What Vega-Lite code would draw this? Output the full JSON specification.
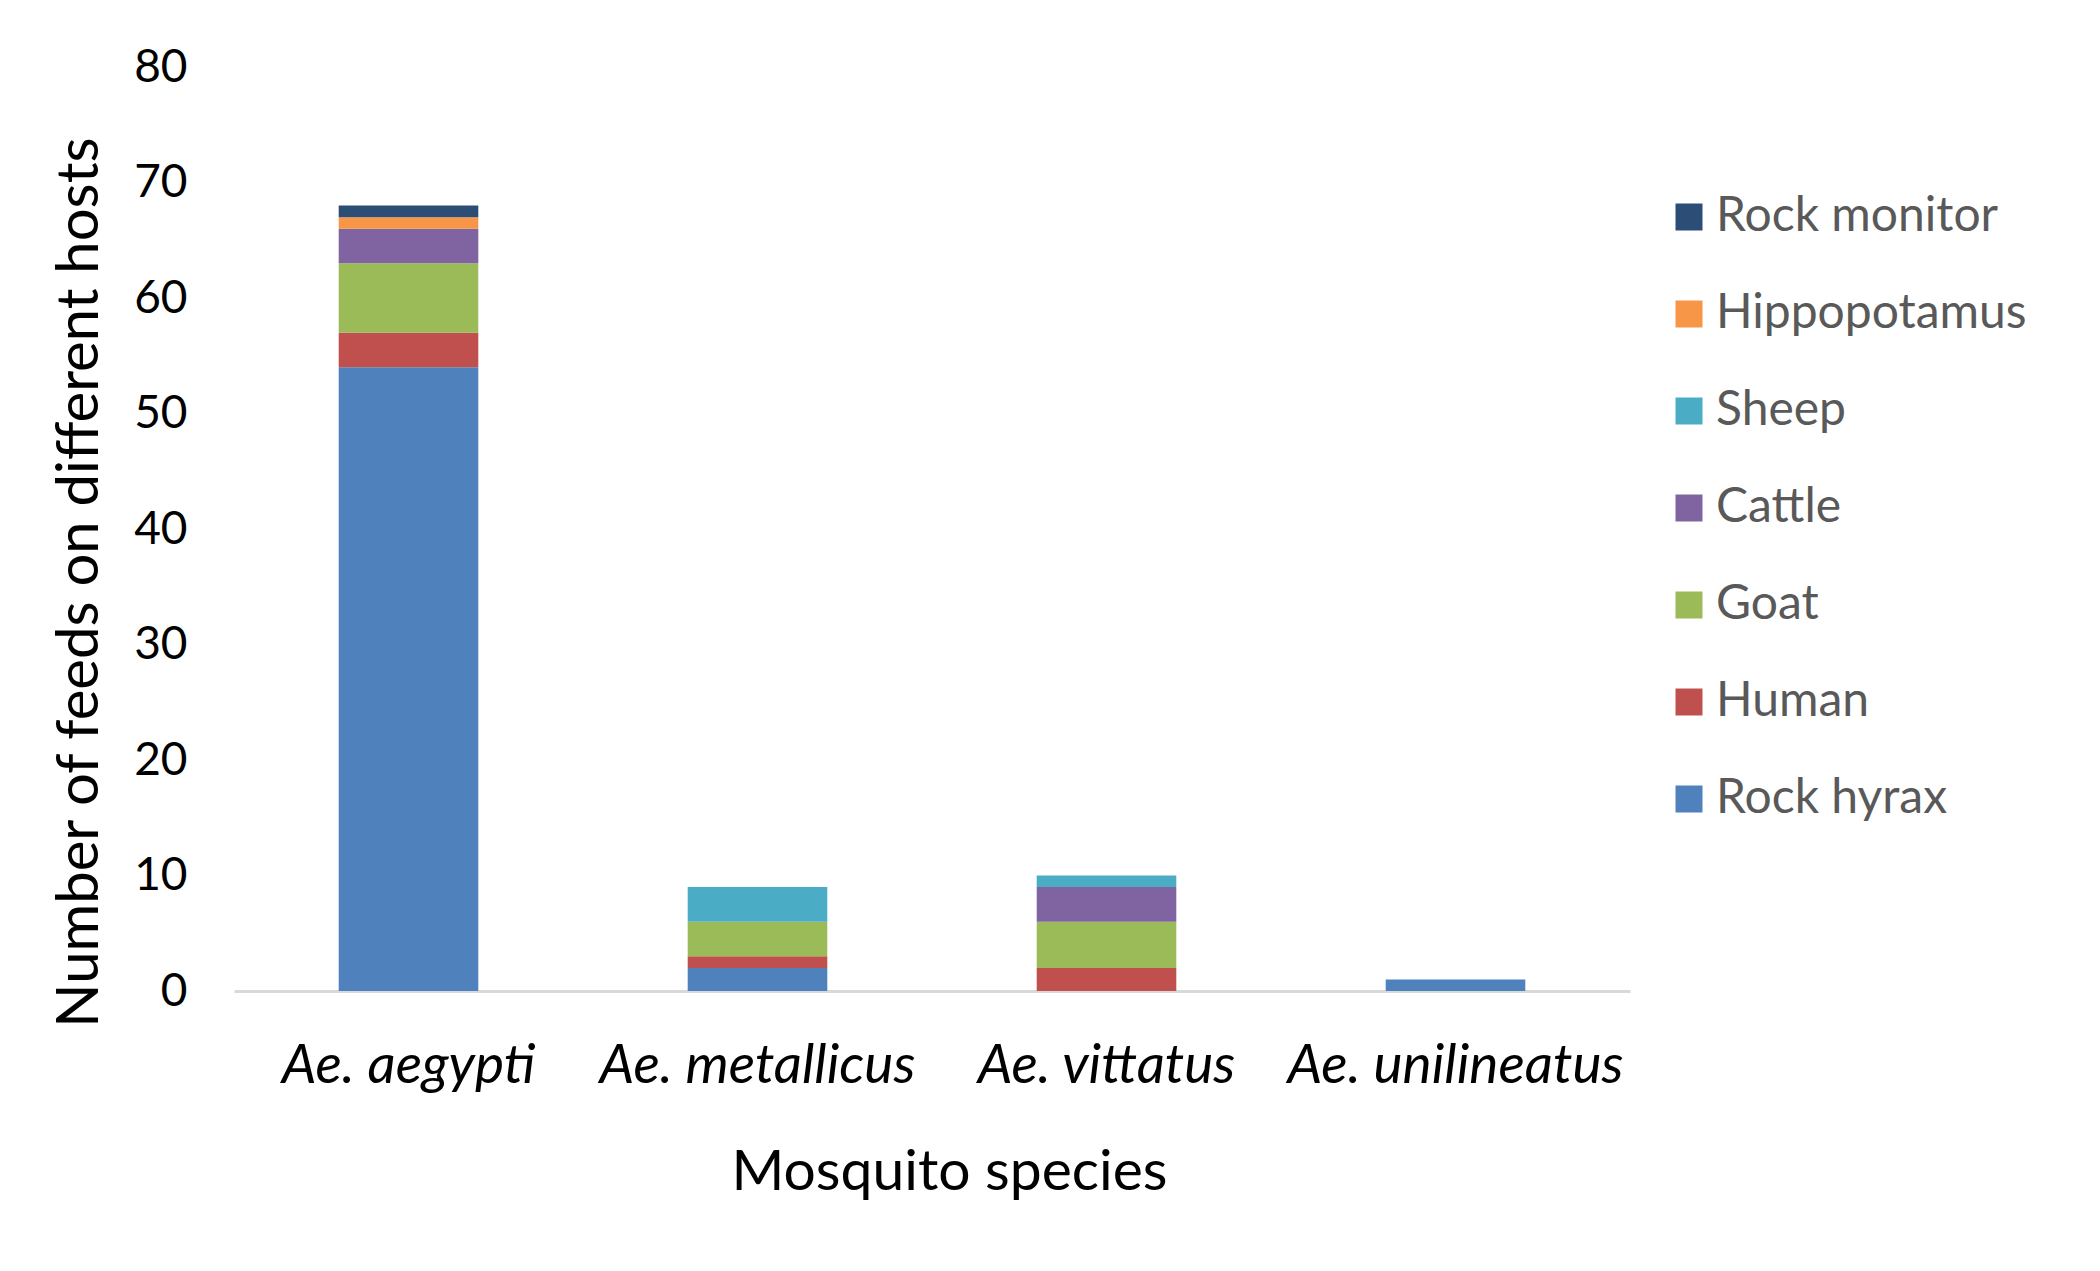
{
  "$schema": "https://vega.github.io/schema/vega-lite/v6.json",
  "width": 1396,
  "height": 924,
  "autosize": "none",
  "padding": {"left": 234, "top": 67, "right": 470, "bottom": 280},
  "background": "white",
  "data": {
    "values": [
      {"species": "Ae. aegypti", "host": "Rock hyrax", "feeds": 54, "stackOrder": 1},
      {"species": "Ae. aegypti", "host": "Human", "feeds": 3, "stackOrder": 2},
      {"species": "Ae. aegypti", "host": "Goat", "feeds": 6, "stackOrder": 3},
      {"species": "Ae. aegypti", "host": "Cattle", "feeds": 3, "stackOrder": 4},
      {"species": "Ae. aegypti", "host": "Hippopotamus", "feeds": 1, "stackOrder": 6},
      {"species": "Ae. aegypti", "host": "Rock monitor", "feeds": 1, "stackOrder": 7},
      {"species": "Ae. metallicus", "host": "Rock hyrax", "feeds": 2, "stackOrder": 1},
      {"species": "Ae. metallicus", "host": "Human", "feeds": 1, "stackOrder": 2},
      {"species": "Ae. metallicus", "host": "Goat", "feeds": 3, "stackOrder": 3},
      {"species": "Ae. metallicus", "host": "Sheep", "feeds": 3, "stackOrder": 5},
      {"species": "Ae. vittatus", "host": "Human", "feeds": 2, "stackOrder": 2},
      {"species": "Ae. vittatus", "host": "Goat", "feeds": 4, "stackOrder": 3},
      {"species": "Ae. vittatus", "host": "Cattle", "feeds": 3, "stackOrder": 4},
      {"species": "Ae. vittatus", "host": "Sheep", "feeds": 1, "stackOrder": 5},
      {"species": "Ae. unilineatus", "host": "Rock hyrax", "feeds": 1, "stackOrder": 1}
    ]
  },
  "mark": {"type": "bar"},
  "encoding": {
    "x": {
      "field": "species",
      "type": "nominal",
      "sort": ["Ae. aegypti", "Ae. metallicus", "Ae. vittatus", "Ae. unilineatus"],
      "scale": {"paddingInner": 0.6, "paddingOuter": 0.3},
      "axis": {
        "title": "Mosquito species",
        "labelAngle": 0,
        "labelFont": "Lato",
        "labelFontStyle": "italic",
        "labelFontSize": 55,
        "labelLimit": 1000,
        "labelColor": "#000000",
        "labelBaseline": "alphabetic",
        "labelPadding": 91,
        "ticks": false,
        "tickSize": 0,
        "domainColor": "#D9D9D9",
        "domainWidth": 3,
        "titleFont": "Lato",
        "titleFontSize": 57,
        "titleFontWeight": "normal",
        "titleColor": "#000000",
        "titleBaseline": "alphabetic",
        "titleAlign": "center",
        "titleX": 715,
        "titleY": 198
      }
    },
    "y": {
      "field": "feeds",
      "type": "quantitative",
      "aggregate": "sum",
      "stack": "zero",
      "scale": {"domain": [0, 80], "nice": false},
      "axis": {
        "title": "Number of feeds on different hosts",
        "values": [0, 10, 20, 30, 40, 50, 60, 70, 80],
        "grid": false,
        "domain": false,
        "ticks": false,
        "tickSize": 0,
        "labelFont": "Lato",
        "labelFontSize": 46,
        "labelColor": "#000000",
        "labelPadding": 47,
        "titleFont": "Lato",
        "titleFontSize": 58,
        "titleFontWeight": "normal",
        "titleColor": "#000000",
        "titleAngle": -90,
        "titleAlign": "center",
        "titleBaseline": "middle",
        "titleX": -154,
        "titleY": 515
      }
    },
    "order": {"field": "stackOrder", "type": "quantitative", "sort": "ascending"},
    "color": {
      "field": "host",
      "type": "nominal",
      "scale": {
        "domain": ["Rock monitor", "Hippopotamus", "Sheep", "Cattle", "Goat", "Human", "Rock hyrax"],
        "range": ["#2C4D75", "#F79646", "#4BACC6", "#8064A2", "#9BBB59", "#C0504D", "#4F81BD"]
      },
      "legend": {
        "title": null,
        "orient": "none",
        "legendX": 1431,
        "legendY": 126,
        "symbolType": "square",
        "symbolSize": 729,
        "symbolStrokeWidth": 0,
        "labelFont": "Lato",
        "labelFontSize": 48,
        "labelColor": "#595959",
        "labelOffset": 3,
        "rowPadding": 49,
        "labelLimit": 600
      }
    }
  },
  "config": {
    "view": {"stroke": null}
  }
}
